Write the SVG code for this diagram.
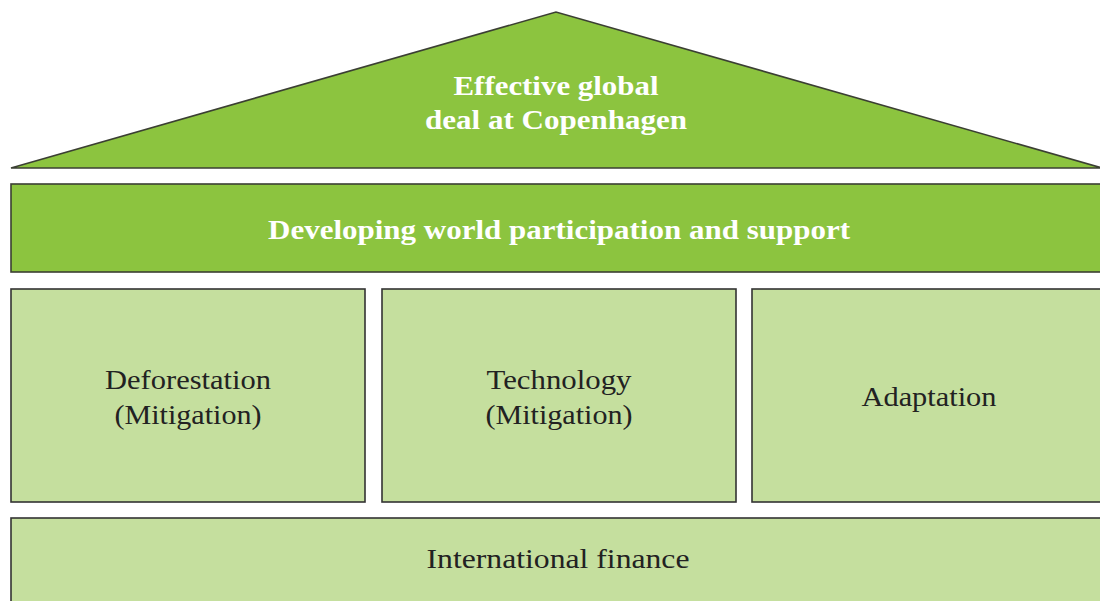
<svg xmlns="http://www.w3.org/2000/svg" width="1100" height="601" viewBox="0 0 1100 601">
<style>
.dark{fill:#8cc43f;stroke:#3b3f33;stroke-width:1.6}
.light{fill:#c5df9e;stroke:#333;stroke-width:1.6}
.tw{font-family:"Liberation Serif",serif;font-weight:bold;fill:#fff;font-size:28px;text-anchor:middle}
.tb{font-family:"Liberation Serif",serif;fill:#222;font-size:28px;text-anchor:middle}
</style>
<rect width="1100" height="601" fill="#fff"/>
<g id="roof">
<polygon class="dark" points="11,168 556,12 1102,168"/>
<text class="tw" x="556" y="95" textLength="205" lengthAdjust="spacingAndGlyphs">Effective global</text>
<text class="tw" x="556" y="129" textLength="262" lengthAdjust="spacingAndGlyphs">deal at Copenhagen</text>
</g>
<g id="participation">
<rect class="dark" x="11" y="184" width="1100" height="88"/>
<text class="tw" x="559" y="239" textLength="582" lengthAdjust="spacingAndGlyphs">Developing world participation and support</text>
</g>
<g id="deforestation">
<rect class="light" x="11" y="289" width="354" height="213"/>
<text class="tb" x="188" y="389" textLength="166" lengthAdjust="spacingAndGlyphs">Deforestation</text>
<text class="tb" x="188" y="424" textLength="147" lengthAdjust="spacingAndGlyphs">(Mitigation)</text>
</g>
<g id="technology">
<rect class="light" x="382" y="289" width="354" height="213"/>
<text class="tb" x="559" y="389" textLength="145" lengthAdjust="spacingAndGlyphs">Technology</text>
<text class="tb" x="559" y="424" textLength="147" lengthAdjust="spacingAndGlyphs">(Mitigation)</text>
</g>
<g id="adaptation">
<rect class="light" x="752" y="289" width="360" height="213"/>
<text class="tb" x="929" y="406" textLength="135" lengthAdjust="spacingAndGlyphs">Adaptation</text>
</g>
<g id="finance">
<rect class="light" x="11" y="518" width="1100" height="100"/>
<text class="tb" x="558" y="568" textLength="263" lengthAdjust="spacingAndGlyphs">International finance</text>
</g>
<g id="connectors"/>
</svg>
